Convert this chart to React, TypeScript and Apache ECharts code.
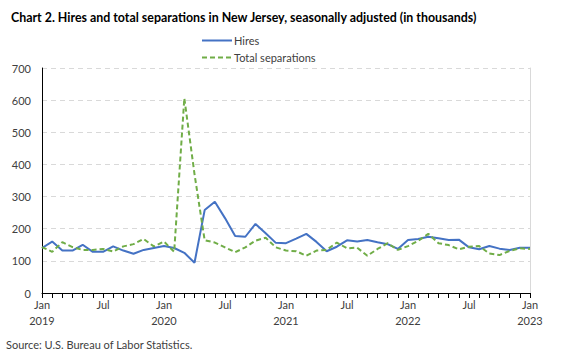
import React, { useEffect, useRef } from "react";
import * as echarts from "echarts";

const months = ["Jan", "Feb", "Mar", "Apr", "May", "Jun", "Jul", "Aug", "Sep", "Oct", "Nov", "Dec"];
const years = [2019, 2020, 2021, 2022, 2023];
const categories: string[] = [];
years.forEach((y) => {
  months.forEach((m, i) => {
    if (y < 2023 || i === 0) categories.push(m + " " + y);
  });
});

const hires = [
  140, 160, 132, 132, 150, 128, 128, 145, 132, 122, 134, 140,
  146, 140, 125, 94, 258, 284, 233, 177, 175, 215, 186, 156,
  155, 169, 184, 159, 130, 144, 164, 160, 165, 158, 152, 137,
  165, 168, 175, 170, 165, 166, 142, 136, 146, 138, 134, 141,
  141,
];

const separations = [
  143, 128, 158, 143, 134, 134, 137, 129, 145, 152, 168, 145,
  160, 128, 606, 370, 164, 157, 142, 127, 142, 163, 172, 142,
  132, 130, 116, 132, 134, 157, 139, 141, 116, 137, 155, 134,
  146, 162, 184, 155, 149, 136, 144, 146, 123, 118, 131, 139,
  137,
];

const yTicks = { min: 0, max: 700, interval: 100 };

const FONT = "Lato";

export default function App() {
  const ref = useRef<HTMLDivElement>(null);
  useEffect(() => {
    if (!ref.current) return;
    const chart = echarts.init(ref.current, undefined, { renderer: "svg" });
    chart.setOption({
      animation: false,
      backgroundColor: "#ffffff",
      textStyle: { fontFamily: FONT },
      title: {
        text: "Chart 2. Hires and total separations in New Jersey, seasonally adjusted (in thousands)",
        left: 6,
        top: 6,
        textStyle: { fontFamily: FONT, fontSize: 12.4, fontWeight: "bold", color: "#000" },
      },
      legend: {
        orient: "vertical",
        left: 196,
        top: 30,
        itemWidth: 30,
        itemHeight: 12,
        itemGap: 6,
        itemStyle: { opacity: 0 },
        textStyle: { fontFamily: FONT, fontSize: 11, color: "#404040", padding: [0, 0, 0, -3] },
        data: ["Hires", "Total separations"],
      },
      graphic: [
        {
          type: "text",
          left: 6,
          top: 339,
          style: {
            text: "Source: U.S. Bureau of Labor Statistics.",
            fontFamily: FONT,
            fontSize: 11,
            fill: "#404040",
          },
        },
      ],
      grid: { left: 42, right: 33, top: 68, bottom: 63, containLabel: false },
      xAxis: {
        type: "category",
        data: categories,
        boundaryGap: false,
        axisLine: { lineStyle: { color: "#000", width: 1 } },
        axisTick: { show: true, interval: 0, length: 5, lineStyle: { color: "#000" } },
        axisLabel: {
          interval: (i: number) => i % 6 === 0,
          formatter: (v: string) => {
            const [m, y] = v.split(" ");
            return m === "Jan" ? m + "\n" + y : m;
          },
          fontFamily: FONT,
          fontSize: 11,
          color: "#404040",
          lineHeight: 16,
          margin: 3,
        },
        splitLine: { show: false },
      },
      yAxis: [
        {
          type: "value",
          min: yTicks.min,
          max: yTicks.max,
          interval: yTicks.interval,
          axisLine: { show: true, lineStyle: { color: "#000" } },
          axisTick: { show: false },
          axisLabel: { fontFamily: FONT, fontSize: 11, color: "#404040", margin: 11 },
          splitLine: { show: true, lineStyle: { color: "#d9d9d9", type: [5, 4] } },
        },
        {
          type: "value",
          position: "right",
          min: yTicks.min,
          max: yTicks.max,
          interval: yTicks.interval,
          axisLine: { show: true, lineStyle: { color: "#d9d9d9" } },
          axisTick: { show: false },
          axisLabel: { show: false },
          splitLine: { show: false },
        },
      ],
      series: [
        {
          name: "Hires",
          type: "line",
          data: hires,
          showSymbol: false,
          symbol: "none",
          lineStyle: { color: "#4472C4", width: 2 },
          itemStyle: { color: "#4472C4" },
        },
        {
          name: "Total separations",
          type: "line",
          data: separations,
          showSymbol: false,
          symbol: "none",
          lineStyle: { color: "#70AD47", width: 2, type: [5, 3] },
          itemStyle: { color: "#70AD47" },
        },
      ],
    });
    return () => chart.dispose();
  }, []);
  return (
    <div
      ref={ref}
      style={{ position: "fixed", left: 0, top: 0, width: 563, height: 356 }}
    />
  );
}
